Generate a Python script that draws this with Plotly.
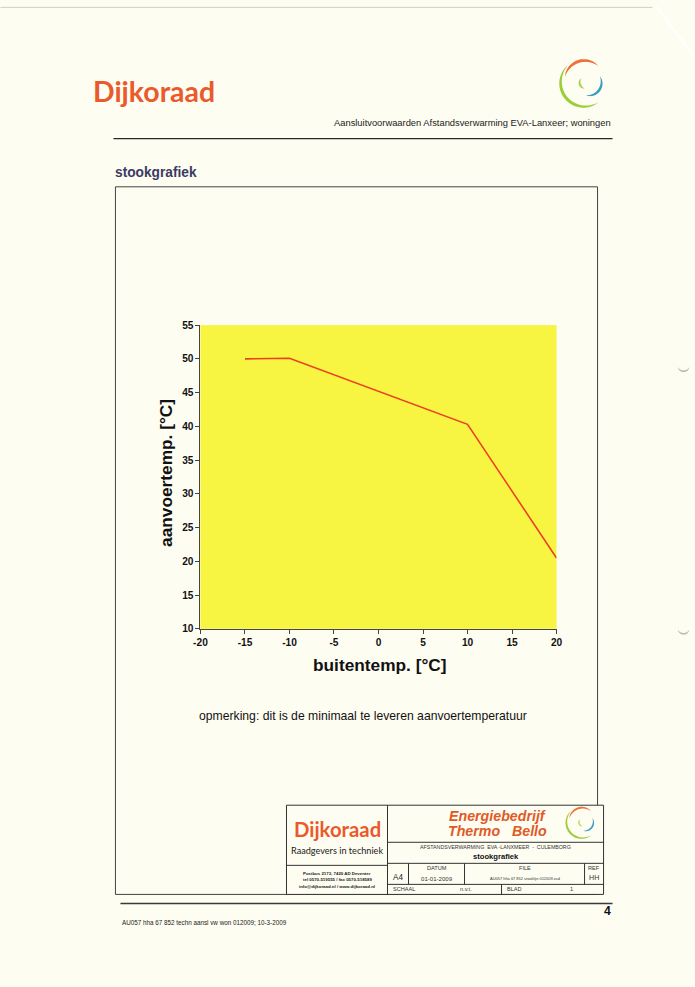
import numpy as np
import plotly.graph_objects as go

# ---- data ----
buitentemp = [-15, -10, 10, 20]          # outdoor temperature [°C]
aanvoertemp = [50.0, 50.1, 40.3, 20.5]   # supply temperature [°C]
x_ticks = [-20, -15, -10, -5, 0, 5, 10, 15, 20]
y_ticks = [10, 15, 20, 25, 30, 35, 40, 45, 50, 55]
x_ticktext = ["-20", "-15", "-10", "-5", "0", "5", "10", "15", "20"]
y_ticktext = ["10", "15", "20", "25", "30", "35", "40", "45", "50", "55"]

W, H = 695, 987
# the photographed picture shows the page with a small surrounding border;
# positions below are given in picture pixels and mapped back to the page
P = 6.7
SX = W / (W + 2 * P)
SY = H / (H + 2 * P)
F = 1 / ((SX + SY) / 2)

PAPER = "#fefdf1"
ORANGE = "#ea5a2c"
ARIAL = "Liberation Sans, Arial, sans-serif"
LATO = "Lato, Open Sans, sans-serif"


def X(px):
    return (px / SX - P) / W


def Y(py):
    return 1 - (py / SY - P) / H


fig = go.Figure()
fig.add_trace(go.Scatter(x=buitentemp, y=aanvoertemp, mode="lines",
                         line=dict(color="#ec4020", width=1.6),
                         hoverinfo="x+y", showlegend=False))

shapes = []
annotations = []


def line(x0, y0, x1, y1, color="#333", width=1):
    shapes.append(dict(type="line", xref="paper", yref="paper",
                       x0=X(x0), y0=Y(y0), x1=X(x1), y1=Y(y1),
                       line=dict(color=color, width=width), layer="above"))


def rect(x0, y0, x1, y1, color="#333", width=1, fill=None):
    shapes.append(dict(type="rect", xref="paper", yref="paper",
                       x0=X(x0), y0=Y(y0), x1=X(x1), y1=Y(y1),
                       line=dict(color=color, width=width),
                       fillcolor=fill if fill else "rgba(0,0,0,0)", layer="below"))


def text(x, y, s, size, color="#111", family=ARIAL, weight="normal",
         xanchor="center", style="normal", angle=0):
    annotations.append(dict(x=X(x), y=Y(y), xref="paper", yref="paper", text=s,
                            showarrow=False, xanchor=xanchor, yanchor="middle",
                            textangle=angle,
                            font=dict(size=size * F, color=color, family=family,
                                      weight=weight, style=style)))


def crescent(cx, cy, r, a0, a1, wmax, color, s=1.0):
    t = np.linspace(0, 1, 40)
    a = np.radians(a0 + (a1 - a0) * t)
    w = wmax * s * np.sin(np.pi * t) ** 0.8 / 2
    ro = r * s + w
    ri = r * s - w
    xo = cx + ro * np.cos(a)
    yo = cy - ro * np.sin(a)
    xi = cx + ri * np.cos(a[::-1])
    yi = cy - ri * np.sin(a[::-1])
    pts = list(zip(np.concatenate([xo, xi]), np.concatenate([yo, yi])))
    path = "M " + " L ".join(f"{X(px):.5f},{Y(py):.5f}" for px, py in pts) + " Z"
    shapes.append(dict(type="path", xref="paper", yref="paper", path=path,
                       fillcolor=color, line=dict(width=0), layer="above"))


def swirl(cx, cy, s):
    crescent(cx + 1 * s, cy, 24, 133, 306, 3.2, "#9ccd3a", s)
    crescent(cx + 1 * s, cy - 2 * s, 20, 47, 168, 3.0, "#f0703c", s)
    crescent(cx + 5 * s, cy, 13, -100, 28, 2.6, "#3a9cc4", s)
    crescent(cx + 2 * s, cy, 6, 135, 262, 2.0, "#a8d040", s)


# ---- page header ----
line(0, 9, 652, 9, color="#d0d0c8", width=1)
line(656, 8, 695, 60, color="#ffffff", width=2)
text(91, 92, "Dijkoraad", 28, color=ORANGE, family=LATO, weight="bold", xanchor="left")
swirl(583, 84, 1.0)
text(612, 124, "Aansluitvoorwaarden Afstandsverwarming EVA-Lanxeer; woningen", 9.2,
     color="#222", xanchor="right")
line(113, 140, 612, 140, color="#2a2a2a", width=1.3)
text(113, 174, "stookgrafiek", 13.5, color="#3b3b62", weight="bold", xanchor="left")

# punch-hole marks at the right page edge
crescent(683, 366, 6, 200, 340, 1.6, "#b8b8ac")
crescent(683, 628, 6, 200, 340, 1.6, "#b8b8ac")

# ---- main frame ----
rect(115, 188, 597, 894, color="#444", width=1)

# ---- axis titles & remark ----
text(166, 473, "aanvoertemp. [°C]", 17, color="#111", weight="bold", angle=-90)
text(379, 665, "buitentemp. [°C]", 17, color="#111", weight="bold")
text(362, 716, "opmerking: dit is de minimaal te leveren aanvoertemperatuur", 12, color="#111")

# ---- title block ----
rect(286, 805, 603, 894, color="#333", width=1, fill=PAPER)
line(387, 805, 387, 894)
line(286, 865, 387, 865)
line(387, 842, 603, 842)
line(387, 863, 603, 863)
line(387, 884, 603, 884)
line(408, 863, 408, 884)
line(464, 863, 464, 884)
line(584, 863, 584, 884)
line(501, 884, 501, 894)

text(337, 829, "Dijkoraad", 20, color=ORANGE, family=LATO, weight="bold")
text(337, 850, "Raadgevers in techniek", 9, color="#222", family=LATO)
text(337, 873, "Postbus 2173, 7420 AD Deventer", 4.3, color="#222", weight="bold")
text(337, 879.5, "tel 0570-519555 / fax 0570-518589", 4.3, color="#222", weight="bold")
text(337, 886, "info@dijkoraad.nl / www.dijkoraad.nl", 4.3, color="#222", weight="bold")

text(497, 816, "Energiebedrijf", 14, color="#e05a28", weight="bold", style="italic")
text(497, 831, "Thermo   Bello", 14, color="#e05a28", weight="bold", style="italic")
swirl(581, 822, 0.66)

text(495, 847, "AFSTANDSVERWARMING  EVA -LANXMEER  -  CULEMBORG", 5.2, color="#333")
text(495, 856, "stookgrafiek", 7.5, color="#111", weight="bold")

text(397, 877, "A4", 8, color="#222")
text(436, 867.5, "DATUM", 5.5, color="#333")
text(436, 878, "01-01-2009", 6, color="#333")
text(524, 867.5, "FILE", 5.5, color="#333")
text(524, 878.5, "AU057 hha 67 852 stooklijn 012009.xsd", 3.9, color="#333")
text(593, 867.5, "REF", 5.5, color="#333")
text(593, 878, "HH", 7, color="#333")
text(390, 889, "SCHAAL", 5.5, color="#333", xanchor="left")
text(465, 889, "n.v.t.", 5.5, color="#333")
text(504, 889, "BLAD", 5.5, color="#333", xanchor="left")
text(571, 889, "1", 5.5, color="#333")

# ---- footer ----
line(120, 903, 612, 903, color="#3a3a3a", width=1.4)
text(612, 911, "4", 12, color="#111", weight="bold", xanchor="right")
text(120, 922, "AU057 hha 67 852 techn aansl vw won 012009; 10-3-2009", 6.2,
     color="#222", xanchor="left")

fig.update_layout(
    width=W, height=H,
    margin=dict(l=0, r=0, t=0, b=0),
    paper_bgcolor=PAPER,
    plot_bgcolor="#f8f442",
    showlegend=False,
    shapes=shapes,
    annotations=annotations,
    xaxis=dict(domain=[X(200), X(556)], range=[-20, 20], tickvals=x_ticks,
               ticktext=x_ticktext,
               showgrid=False, zeroline=False, showline=True, linecolor="#444",
               linewidth=1, ticks="outside", ticklen=4, tickcolor="#444",
               tickfont=dict(family=ARIAL, size=10 * F, color="#111", weight="bold")),
    yaxis=dict(domain=[Y(629), Y(326)], range=[10, 55], tickvals=y_ticks,
               ticktext=y_ticktext,
               showgrid=False, zeroline=False, showline=True, linecolor="#444",
               linewidth=1, ticks="outside", ticklen=4, tickcolor="#444",
               tickfont=dict(family=ARIAL, size=10 * F, color="#111", weight="bold")),
)

fig.write_html(
    "out.html",
    config={"displayModeBar": False},
    post_script=("document.body.style.margin='0';"
                 "document.body.style.overflow='hidden';"
                 "document.body.style.background='#fefdf1';"
                 "document.documentElement.style.background='#fefdf1';"),
)
